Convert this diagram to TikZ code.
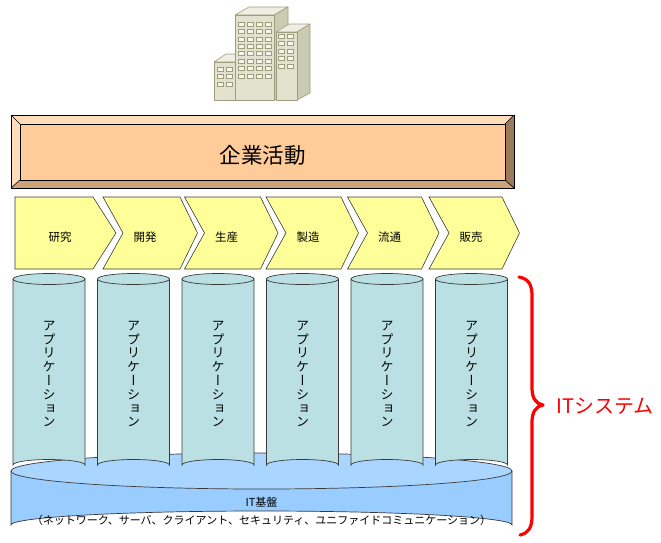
\documentclass[tikz,border=0pt]{standalone}
\usepackage{fontspec}
\newfontfamily\jpfont{Noto Sans CJK JP}
\newfontfamily\jpvert[RawFeature=+vert]{Noto Sans CJK JP}
\usetikzlibrary{calc}

\definecolor{bldfront}{HTML}{E2E2CE}
\definecolor{bldtop}{HTML}{EEEEE2}
\definecolor{bldside}{HTML}{CBCBB3}
\definecolor{bldline}{HTML}{9E9E7E}
\definecolor{winfill}{HTML}{F6F6EC}
\definecolor{bizface}{HTML}{FFCC99}
\definecolor{bizlight}{HTML}{FFDDBB}
\definecolor{bizdark}{HTML}{CDA37B}
\definecolor{bizside}{HTML}{9C7A5C}
\definecolor{chevfill}{HTML}{FFFF99}
\definecolor{appfill}{HTML}{BBE0E3}
\definecolor{basefill}{HTML}{99CCFF}
\definecolor{basetop}{HTML}{AAD5FF}
\definecolor{edge}{HTML}{3A3A3A}

\tikzset{
  bface/.style={fill=bldfront, draw=bldline, line width=0.6pt, line join=round},
  btop/.style={fill=bldtop, draw=bldline, line width=0.6pt, line join=round},
  bside/.style={fill=bldside, draw=bldline, line width=0.6pt, line join=round},
  bwin/.style={fill=winfill, draw=bldline, line width=0.5pt},
  bevel/.style={draw=black, line width=0.6pt, line join=miter},
  chevron/.style={fill=chevfill, draw=edge, line width=0.6pt, line join=miter},
  chevlabel/.style={font=\jpfont\fontsize{11.5}{13}\selectfont, text=black},
  appcyl/.style={fill=appfill, draw=edge, line width=0.7pt},
  applabel/.style={font=\jpvert\fontsize{13}{13.8}\selectfont, align=center, inner sep=0pt},
  basecyl/.style={fill=basefill, draw=edge, line width=0.7pt},
  brace/.style={draw=red, line width=3.2pt, line cap=round, line join=round},
}

\begin{document}
\begin{tikzpicture}[x=1pt, y=-1pt]
\useasboundingbox (0,0) rectangle (661,542);

% ---------- office building ----------
% left low block
\fill[btop] (214,62) -- (226,54) -- (247,54) -- (235,62) -- cycle;
\fill[bface] (214,62) rectangle (235,100);
\foreach \r in {0,1,2}
  \foreach \c in {0,1}
    \draw[bwin] ($(217,67)+(9*\c,7.5*\r)$) rectangle ++(6,4);
% tall middle block
\fill[btop] (235,15) -- (249,7) -- (288,7) -- (274,15) -- cycle;
\fill[bside] (274,15) -- (288,7) -- (288,93) -- (274,100) -- cycle;
\fill[bface] (235,15) rectangle (274,100);
\foreach \r in {0,...,7}
  \foreach \c in {0,...,3}
    \draw[bwin] ($(238,22)+(9*\c,7.4*\r)$) rectangle ++(6.5,4);
% right block
\fill[btop] (276,32) -- (289,24) -- (310,24) -- (297,32) -- cycle;
\fill[bside] (297,32) -- (310,24) -- (310,93) -- (297,100) -- cycle;
\fill[bface] (276,32) rectangle (297,100);
\foreach \r in {0,...,4}
  \foreach \c in {0,1}
    \draw[bwin] ($(278.5,34)+(9*\c,7.5*\r)$) rectangle ++(5.5,4);

% ---------- bevelled business-activity panel ----------
\coordinate (o1) at (11,115);  \coordinate (o2) at (514,115);
\coordinate (o3) at (514,188); \coordinate (o4) at (11,188);
\coordinate (i1) at (20,124);  \coordinate (i2) at (505,124);
\coordinate (i3) at (505,180); \coordinate (i4) at (20,180);
\fill[bizlight] (o1) -- (o2) -- (i2) -- (i1) -- cycle;
\fill[bizside] (o2) -- (o3) -- (i3) -- (i2) -- cycle;
\fill[bizdark] (o3) -- (o4) -- (i4) -- (i3) -- cycle;
\fill[bizlight] (o4) -- (o1) -- (i1) -- (i4) -- cycle;
\fill[bizface] (i1) rectangle (i3);
\draw[bevel] (o1) -- (o2) -- (o3) -- (o4) -- cycle;
\draw[bevel] (i1) -- (i2) -- (i3) -- (i4) -- cycle;
\draw[bevel] (o1) -- (i1) (o2) -- (i2) (o3) -- (i3) (o4) -- (i4);
\node[font=\jpfont\fontsize{21.5}{24}\selectfont] (biz) at (262.5,155) {企業活動};

% ---------- value-chain chevrons ----------
\draw[chevron] (15,197) -- (93,197) -- (116,233) -- (93,269) -- (15,269) -- cycle;
\node[chevlabel] (c1) at (60,237) {研究};
\foreach \i/\lbl/\nm in {1/開発/c2, 2/生産/c3, 3/製造/c4, 4/流通/c5, 5/販売/c6}{
  \pgfmathsetmacro{\L}{103+81.5*(\i-1)}
  \pgfmathsetmacro{\T}{180+80.5*(\i-1)}
  \draw[chevron] (\L,197) -- (\T,197) -- (\T+17.5,233) -- (\T,269)
        -- (\L,269) -- (\L+20,233) -- cycle;
  \node[chevlabel] (\nm) at (\L+42,237) {\lbl};
}

% ---------- IT infrastructure base cylinder ----------
\fill[basefill] (11,471) -- (11,525) arc[start angle=180, end angle=360, x radius=250.5, y radius=14]
      -- (512,471) arc[start angle=0, end angle=180, x radius=250.5, y radius=18] -- cycle;
\draw[basecyl, fill=basetop] (261.5,471) ellipse[x radius=250.5, y radius=18];
\draw[basecyl, fill=none] (11,471) -- (11,525) arc[start angle=180, end angle=360, x radius=250.5, y radius=14] -- (512,471);
\node[font=\jpfont\fontsize{11}{18}\selectfont, align=center] (base) at (261.5,511)
  {IT基盤\\（ネットワーク、サーバ、クライアント、セキュリティ、ユニファイドコミュニケーション）};

% ---------- application cylinders ----------
\foreach \k in {0,...,5}{
  \pgfmathsetmacro{\cx}{49+84.5*\k}
  \path[appcyl] (\cx-36,279) -- (\cx-36,465)
     arc[start angle=180, end angle=360, x radius=36, y radius=5.5]
     -- (\cx+36,279) -- cycle;
  \draw[appcyl] (\cx,279) ellipse[x radius=36, y radius=5.5];
  \node[applabel] (app\k) at (\cx,374) {ア\\プ\\リ\\ケ\\ー\\シ\\ョ\\ン};
}

% ---------- IT system brace ----------
\draw[brace] (519,277) .. controls (529,279) and (532,285) .. (532,296)
   -- (532,388) .. controls (532,398) and (536,404) .. (543,405)
   .. controls (536,406) and (532,412) .. (532,422)
   -- (532,516) .. controls (532,527) and (529,533) .. (520,535);
\node[font=\jpfont\fontsize{20}{22}\selectfont, text=red, anchor=west] (itsys) at (553,406) {ITシステム};

\end{tikzpicture}
\end{document}
